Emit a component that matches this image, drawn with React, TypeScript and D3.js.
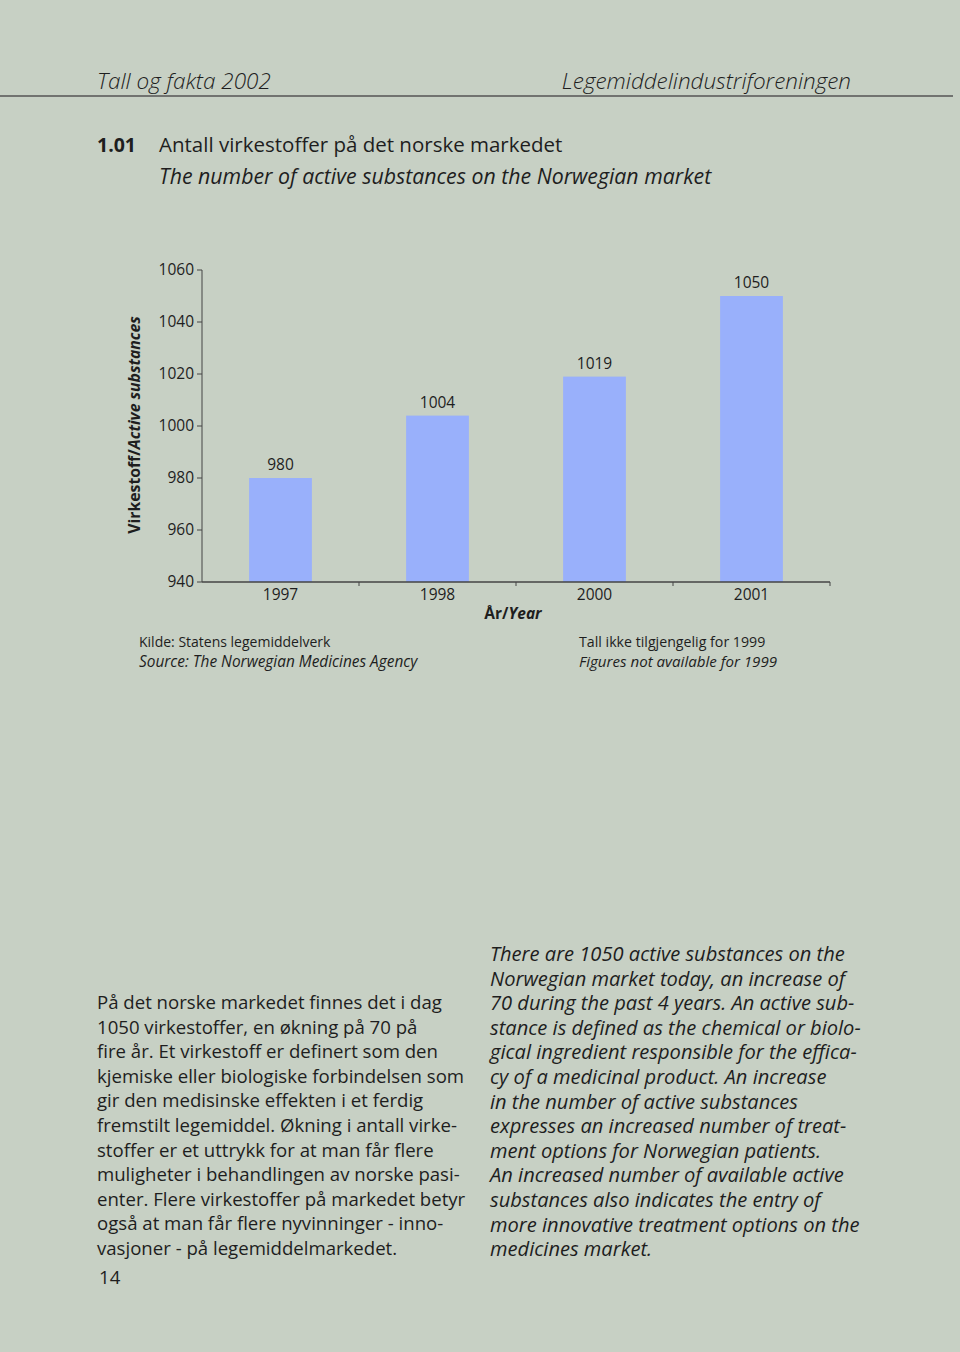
import React from "react";
import * as d3 from "d3";

const years = ["1997", "1998", "2000", "2001"];
const values = [980, 1004, 1019, 1050];
const yTicks = [940, 960, 980, 1000, 1020, 1040, 1060];

const leftLines = [
  "På det norske markedet finnes det i dag",
  "1050 virkestoffer, en økning på 70 på",
  "fire år. Et virkestoff er definert som den",
  "kjemiske eller biologiske forbindelsen som",
  "gir den medisinske effekten i et ferdig",
  "fremstilt legemiddel. Økning i antall virke-",
  "stoffer er et uttrykk for at man får flere",
  "muligheter i behandlingen av norske pasi-",
  "enter. Flere virkestoffer på markedet betyr",
  "også at man får flere nyvinninger - inno-",
  "vasjoner - på legemiddelmarkedet.",
];
const rightLines = [
  "There are 1050 active substances on the",
  "Norwegian market today, an increase of",
  "70 during the past 4 years. An active sub-",
  "stance is defined as the chemical or biolo-",
  "gical ingredient responsible for the effica-",
  "cy of a medicinal product. An increase",
  "in the number of active substances",
  "expresses an increased number of treat-",
  "ment options for Norwegian patients.",
  "An increased number of available active",
  "substances also indicates the entry of",
  "more innovative treatment options on the",
  "medicines market.",
];

const FONT = "'Open Sans', 'Noto Sans', sans-serif";
const TXT = "#1e1e1e";

export default function App() {
  const x = d3.scaleBand<string>().domain(years).range([202, 830]).paddingInner(0.6).paddingOuter(0.3);
  const band = d3.scaleBand<string>().domain(years).range([202, 830]);
  const y = d3.scaleLinear().domain([940, 1060]).range([582, 270]);

  return (
    <svg width={960} height={1352} style={{ position: "absolute", left: 0, top: 0 }} fontFamily={FONT}>
      <rect width={960} height={1352} fill="#c7d0c4" />
      {/* header */}
      <text x={97} y={89} fontSize={22.5} fontStyle="italic" fill={TXT} fontWeight={300}>Tall og fakta 2002</text>
      <text x={851} y={89} fontSize={22.5} fontStyle="italic" fill={TXT} textAnchor="end" fontWeight={300}>Legemiddelindustriforeningen</text>
      <line x1={0} x2={953} y1={96} y2={96} stroke="#555" strokeWidth={1.5} />
      {/* title */}
      <text x={97} y={152} fontSize={19.5} fontWeight="bold" fill={TXT}>1.01</text>
      <text x={159} y={152} fontSize={20.5} fill={TXT}>Antall virkestoffer på det norske markedet</text>
      <text x={159} y={184} fontSize={21.3} fontStyle="italic" fill={TXT}>The number of active substances on the Norwegian market</text>

      {/* bars */}
      {years.map((yr, i) => (
        <g key={yr}>
          <rect x={x(yr)} y={y(values[i])} width={x.bandwidth()} height={y(940) - y(values[i])} fill="#99b0fb" />
          <text x={x(yr)! + x.bandwidth() / 2} y={y(values[i]) - 8} fontSize={15.5} textAnchor="middle" fill={TXT}>{values[i]}</text>
          <text x={x(yr)! + x.bandwidth() / 2} y={600} fontSize={15.5} textAnchor="middle" fill={TXT}>{yr}</text>
        </g>
      ))}
      {/* y axis */}
      <line x1={202} x2={202} y1={y(1060)} y2={y(940)} stroke="#444" strokeWidth={1} />
      {yTicks.map((t) => (
        <g key={t}>
          <line x1={197} x2={202} y1={y(t)} y2={y(t)} stroke="#444" />
          <text x={194} y={y(t) + 5} fontSize={15.5} textAnchor="end" fill={TXT}>{t}</text>
        </g>
      ))}
      {/* x axis */}
      <line x1={202} x2={830} y1={582} y2={582} stroke="#444" strokeWidth={1.5} />
      {years.map((yr) => (
        <line key={yr} x1={band(yr)! + band.bandwidth()} x2={band(yr)! + band.bandwidth()} y1={582} y2={586} stroke="#444" />
      ))}
      <text x={513} y={619} fontSize={15.5} fontWeight="bold" textAnchor="middle" fill={TXT}>
        År/<tspan fontStyle="italic">Year</tspan>
      </text>
      <text transform="translate(140,425) rotate(-90)" fontSize={15.8} fontWeight="bold" textAnchor="middle" fill={TXT}>
        Virkestoff/<tspan fontStyle="italic">Active substances</tspan>
      </text>

      {/* notes */}
      <text x={139} y={647} fontSize={14} fill={TXT}>Kilde: Statens legemiddelverk</text>
      <text x={139} y={667} fontSize={15.4} fontStyle="italic" fill={TXT}>Source: The Norwegian Medicines Agency</text>
      <text x={579} y={647} fontSize={14.2} fill={TXT}>Tall ikke tilgjengelig for 1999</text>
      <text x={579} y={667} fontSize={15.1} fontStyle="italic" fill={TXT}>Figures not available for 1999</text>

      {/* body text */}
      {leftLines.map((l, i) => (
        <text key={i} x={97} y={1009 + i * 24.6} fontSize={18.6} fill={TXT}>{l}</text>
      ))}
      <text x={99} y={1284} fontSize={18.6} fill={TXT}>14</text>
      {rightLines.map((l, i) => (
        <text key={i} x={490} y={961 + i * 24.6} fontSize={20.1} fontStyle="italic" fill={TXT}>{l}</text>
      ))}
    </svg>
  );
}
